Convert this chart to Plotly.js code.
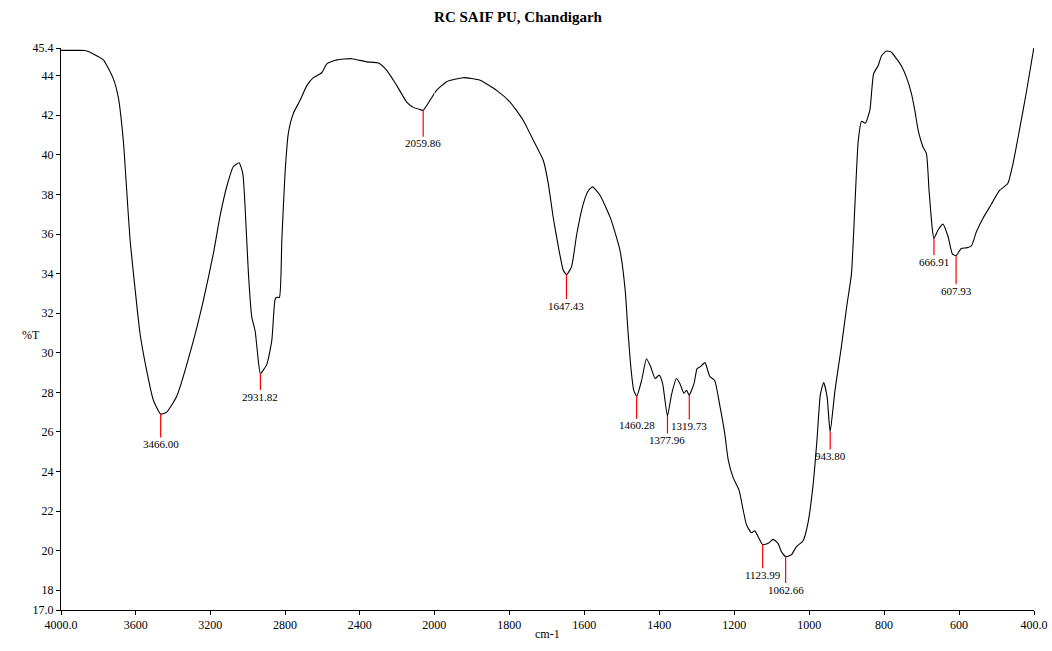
<!DOCTYPE html>
<html>
<head>
<meta charset="utf-8">
<script src="https://cdn.plot.ly/plotly-3.0.1.min.js"></script>
<style>html,body{margin:0;padding:0;background:#fff;}#chart{width:1052px;height:651px;}</style>
</head>
<body>
<div id="chart"></div>
<script>
// Wavenumber (cm-1) and transmittance (%T)
const wavenumber = [4000,3950,3900,3870,3827,3773,3720,3693,3666,3648,3630,3603,3577,3541,3505,3466,3434,3380,3291,3237,3184,3148,3112,3077,3046,3026,3014,2996,2978,2960,2943,2932,2898,2871,2853,2844,2830,2817,2800,2782,2755,2728,2719,2683,2648,2603,2576,2522,2442,2362,2299,2255,2201,2148,2112,2080,2060,2023,2000,1994,1967,1923,1878,1834,1798,1763,1736,1709,1696,1683,1669,1656,1647,1634,1620,1603,1589,1578,1558,1530,1505,1491,1483,1474,1468,1460,1447,1434,1423,1411,1400,1391,1378,1367,1354,1345,1334,1327,1320,1307,1299,1290,1278,1265,1252,1238,1225,1216,1203,1187,1176,1167,1154,1145,1136,1124,1109,1096,1083,1074,1062,1047,1034,1016,1003,989,979,970,961,952,944,931,914,900,887,878,869,860,850,838,828,816,807,794,781,767,754,740,727,718,709,696,687,680,671,667,656,643,629,618,608,594,580,567,554,536,514,492,470,456,439,421,400];
const transmittance = [45.28,45.28,45.28,45.27,45.1,44.8,43.85,42.9,40.7,38.2,35.7,33.2,31.0,29.1,27.6,26.9,27.0,27.8,30.6,32.66,35.0,36.9,38.4,39.4,39.6,39.05,37.4,34.0,31.8,31.1,29.6,28.95,29.4,30.6,32.7,32.8,32.8,35.7,39.05,41.1,42.1,42.6,42.76,43.5,43.9,44.15,44.6,44.8,44.86,44.7,44.64,44.27,43.5,42.67,42.4,42.3,42.25,42.76,43.1,43.26,43.7,43.9,43.77,43.26,42.67,41.75,40.74,39.7,38.55,36.86,35.35,34.17,33.95,34.34,36.0,37.5,38.2,38.38,37.96,36.8,35.2,33.2,31.0,28.95,28.1,27.8,28.6,29.7,29.3,28.7,28.87,28.45,26.8,27.9,28.7,28.45,27.95,28.1,27.86,28.45,29.2,29.3,29.5,28.8,28.6,27.3,25.9,24.6,23.7,23.06,22.05,21.3,20.9,21.0,20.7,20.3,20.37,20.57,20.37,19.95,19.7,19.8,20.2,20.5,21.4,23.4,25.6,27.9,28.5,27.77,26.0,28.1,30.3,32.3,34.0,37.4,40.7,41.7,41.6,42.25,44.1,44.5,45.0,45.25,45.2,44.86,44.5,43.9,43.1,42.25,41.24,40.4,40.06,38.2,36.2,35.77,36.2,36.5,35.85,35.0,34.9,35.27,35.3,35.4,36.1,36.8,37.5,38.2,38.55,39.56,41.24,43.1,45.45];

// Labelled peaks
const peakWavenumber = [3466.00, 2931.82, 2059.86, 1647.43, 1460.28, 1377.96, 1319.73, 1123.99, 1062.66, 943.80, 666.91, 607.93];
const peakT = [26.9, 28.95, 42.25, 33.95, 27.8, 26.8, 27.86, 20.3, 19.7, 26.0, 35.77, 34.9];

// Axis ticks
const xTicksHigh = [4000, 3600, 3200, 2800, 2400];
const xTickTextHigh = ['4000.0', '3600', '3200', '2800', '2400'];
const xTicksLow = [2000, 1800, 1600, 1400, 1200, 1000, 800, 600, 400];
const xTickTextLow = ['2000', '1800', '1600', '1400', '1200', '1000', '800', '600', '400.0'];
const yTicks = [17, 18, 20, 22, 24, 26, 28, 30, 32, 34, 36, 38, 40, 42, 44, 45.4];
const yTickText = ['17.0', '18', '20', '22', '24', '26', '28', '30', '32', '34', '36', '38', '40', '42', '44', '45.4'];

// Layout-only: length in px of the red marker line under each peak
const peakDrop = [22, 15, 25, 23, 21, 16, 23, 22, 25, 16, 15, 27];

const hiX = [], hiY = [], loX = [], loY = [];
wavenumber.forEach((w, i) => {
  if (w >= 2000) { hiX.push(w); hiY.push(transmittance[i]); }
  if (w <= 2000) { loX.push(w); loY.push(transmittance[i]); }
});

const lineStyle = {color: '#000000', width: 1.1, shape: 'spline', smoothing: 0.5};
const traces = [
  {x: hiX, y: hiY, xaxis: 'x', yaxis: 'y', mode: 'lines', line: lineStyle, hoverinfo: 'x+y'},
  {x: loX, y: loY, xaxis: 'x2', yaxis: 'y', mode: 'lines', line: lineStyle, hoverinfo: 'x+y'}
];

const font = {family: '"Liberation Serif", "Times New Roman", serif', color: '#000000'};
const split = 0.3837;

const annotations = peakWavenumber.map((w, i) => ({
  x: w, y: peakT[i], xref: w >= 2000 ? 'x' : 'x2', yref: 'y',
  text: w.toFixed(2), showarrow: true, arrowhead: 0, arrowwidth: 1.2, arrowcolor: '#ff0000',
  ax: 0, ay: peakDrop[i] + 8, standoff: 0, borderpad: 0,
  font: Object.assign({}, font, {size: 11})
}));
annotations.push({
  text: '%T', xref: 'paper', yref: 'paper', x: -0.042, y: 0.489, showarrow: false,
  font: Object.assign({}, font, {size: 12})
});
annotations.push({
  text: 'cm-1', xref: 'paper', yref: 'paper', x: 0.4995, y: -0.0587, showarrow: false,
  font: Object.assign({}, font, {size: 12})
});

const axisCommon = {
  showline: true, linecolor: '#000000', linewidth: 1, ticks: 'outside', ticklen: 4,
  tickcolor: '#000000', tickwidth: 1, showgrid: false, zeroline: false,
  tickfont: Object.assign({}, font, {size: 12}), fixedrange: true
};

const layout = {
  width: 1052, height: 651,
  margin: {l: 61, r: 18, t: 48, b: 41},
  paper_bgcolor: '#ffffff', plot_bgcolor: '#ffffff',
  showlegend: false,
  title: {text: '<b>RC SAIF PU, Chandigarh</b>', xref: 'container', yref: 'container',
          x: 0.4924, y: 0.974, xanchor: 'center', yanchor: 'middle',
          font: Object.assign({}, font, {size: 15})},
  xaxis: Object.assign({}, axisCommon, {domain: [0, split], range: [4000, 2000], anchor: 'y',
          tickmode: 'array', tickvals: xTicksHigh, ticktext: xTickTextHigh}),
  xaxis2: Object.assign({}, axisCommon, {domain: [split, 1], range: [2000, 400], anchor: 'y',
          tickmode: 'array', tickvals: xTicksLow, ticktext: xTickTextLow}),
  yaxis: Object.assign({}, axisCommon, {range: [17, 45.4], tickmode: 'array',
          tickvals: yTicks, ticktext: yTickText}),
  annotations: annotations
};

Plotly.newPlot('chart', traces, layout, {displayModeBar: false, staticPlot: true});
</script>
</body>
</html>
